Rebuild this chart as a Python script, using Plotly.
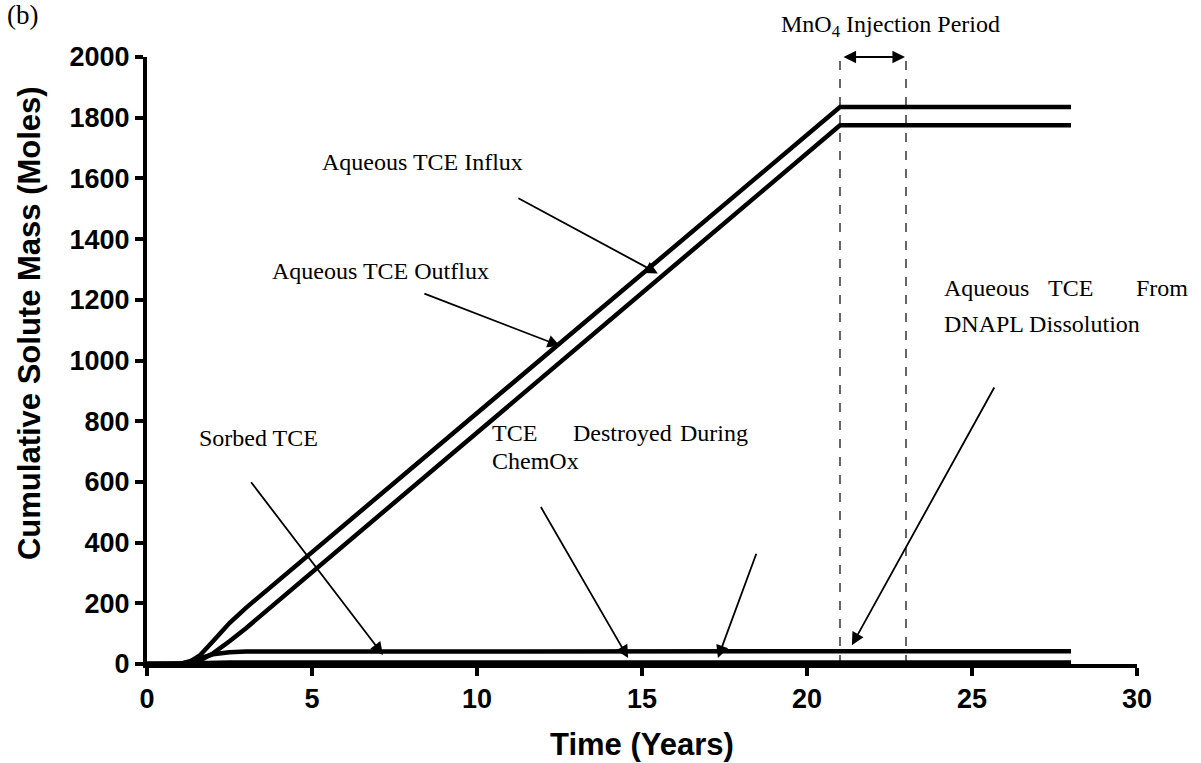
import plotly.graph_objects as go

# Cumulative solute mass balance (moles) vs time (years)
influx_t = [0, 1.0, 1.3, 1.6, 2.0, 2.5, 3.0, 21.0, 28.0]
influx_v = [0, 0, 8, 28, 75, 135, 185, 1835, 1835]

outflux_t = [0, 1.2, 1.5, 2.0, 2.5, 3.0, 21.0, 28.0]
outflux_v = [0, 0, 5, 35, 75, 118, 1775, 1775]

dnapl_t = [0, 1.0, 1.5, 2.0, 2.5, 3.0, 28.0]
dnapl_v = [0, 0, 15, 32, 39, 41, 42]

sorbed_t = [0, 1.2, 1.8, 2.5, 28.0]
sorbed_v = [0, 0, 3, 5, 5]

destroyed_t = [0, 21.0, 23.0, 28.0]
destroyed_v = [0, 0, 1, 1]

injection_start = 21.0
injection_end = 23.0

x_ticks = [0, 5, 10, 15, 20, 25, 30]
y_ticks = [0, 200, 400, 600, 800, 1000, 1200, 1400, 1600, 1800, 2000]

SANS = "Liberation Sans, Arial, sans-serif"
SERIF = "Liberation Serif, Times New Roman, serif"

fig = go.Figure()
line_style = dict(color="black", width=4.5)
for t, v, name in [
    (influx_t, influx_v, "Aqueous TCE Influx"),
    (outflux_t, outflux_v, "Aqueous TCE Outflux"),
    (dnapl_t, dnapl_v, "Aqueous TCE From DNAPL Dissolution"),
    (sorbed_t, sorbed_v, "Sorbed TCE"),
    (destroyed_t, destroyed_v, "TCE Destroyed During ChemOx"),
]:
    fig.add_trace(go.Scatter(x=t, y=v, mode="lines", line=line_style,
                             name=name, showlegend=False, cliponaxis=False))

# Injection period markers
for xv in (injection_start, injection_end):
    fig.add_shape(type="line", xref="x", yref="paper", x0=xv, x1=xv,
                  y0=0, y1=1.008, line=dict(color="black", width=1.2, dash="dash"))

text_font = dict(family=SERIF, size=24, color="black")
# Labels placed in data coordinates
labels = [
    ("Aqueous TCE Influx", 5.24, 1655, "left"),
    ("Aqueous TCE Outflux", 3.73, 1294, "left"),
    ("Sorbed TCE", 1.52, 745, "left"),
    ("TCE", 10.39, 762, "left"),
    ("Destroyed", 12.85, 762, "left"),
    ("During", 18.27, 762, "right"),
    ("ChemOx", 10.39, 670, "left"),
    ("Aqueous", 24.09, 1238, "left"),
    ("TCE", 27.25, 1238, "left"),
    ("DNAPL Dissolution", 24.09, 1120, "left"),
]
for txt, x, y, anchor in labels:
    fig.add_annotation(text=txt, x=x, y=y, xref="x", yref="y", showarrow=False,
                       xanchor=anchor, yanchor="middle", font=text_font)

# Labels reaching past the plotting area use paper coordinates
paper_labels = [
    ("From", 1.0535, 0.619, "right"),
    ("MnO<sub>4</sub> Injection Period", 0.7515, 1.051, "center"),
]
for txt, x, y, anchor in paper_labels:
    fig.add_annotation(text=txt, x=x, y=y, xref="paper", yref="paper", showarrow=False,
                       xanchor=anchor, yanchor="middle", font=text_font)

# Pointer arrows: (tip_x, tip_y, tail_x, tail_y)
arrows = [
    (15.48, 1287, 11.21, 1537),
    (12.52, 1048, 8.36, 1222),
    (7.15, 30, 3.12, 604),
    (14.58, 20, 11.91, 522),
    (17.30, 20, 18.48, 368),
    (21.36, 62, 25.7, 916),
]
for x, y, ax, ay in arrows:
    fig.add_annotation(x=x, y=y, ax=ax, ay=ay, xref="x", yref="y", axref="x", ayref="y",
                       text="", showarrow=True, arrowhead=2, arrowsize=1.4,
                       arrowwidth=1.8, arrowcolor="black", standoff=0)

fig.add_annotation(x=injection_end - 0.03, y=2000, ax=injection_start + 0.06, ay=2000,
                   xref="x", yref="y", axref="x", ayref="y", text="", showarrow=True,
                   arrowhead=2, startarrowhead=2, arrowside="end+start", arrowsize=1.4,
                   startarrowsize=1.4, arrowwidth=1.8, arrowcolor="black", standoff=0,
                   startstandoff=0)

fig.add_annotation(text="(b)", x=-0.1434, y=1.069, xref="paper", yref="paper",
                   showarrow=False, xanchor="left", yanchor="middle",
                   font=dict(family=SERIF, size=27, color="black"))

# Axis titles
title_font = dict(family=SANS, size=31, color="black")
fig.add_annotation(text="<b>Cumulative Solute Mass (Moles)</b>", textangle=-90,
                   x=-0.118, y=0.562, xref="paper", yref="paper", showarrow=False,
                   xanchor="center", yanchor="middle", font=title_font)
fig.add_annotation(text="<b>Time (Years)</b>", x=0.5, y=-0.133,
                   xref="paper", yref="paper", showarrow=False,
                   xanchor="center", yanchor="middle", font=title_font)

axis_common = dict(showline=True, linecolor="black", linewidth=4, ticks="outside",
                   ticklen=8, tickwidth=4, tickcolor="black", showgrid=False,
                   zeroline=False, automargin=False,
                   tickfont=dict(family=SANS, size=27, color="black"))

fig.update_xaxes(range=[0, 30], tickvals=x_ticks,
                 ticktext=[f"<b>{v}</b>" for v in x_ticks], **axis_common)
fig.update_yaxes(range=[0, 2000], tickvals=y_ticks,
                 ticktext=[f"<b>{v}</b>" for v in y_ticks], **axis_common)

fig.update_layout(width=1201, height=763, margin=dict(l=147, r=64, t=57, b=99),
                  plot_bgcolor="white", paper_bgcolor="white", showlegend=False)

fig.write_html("out.html")
